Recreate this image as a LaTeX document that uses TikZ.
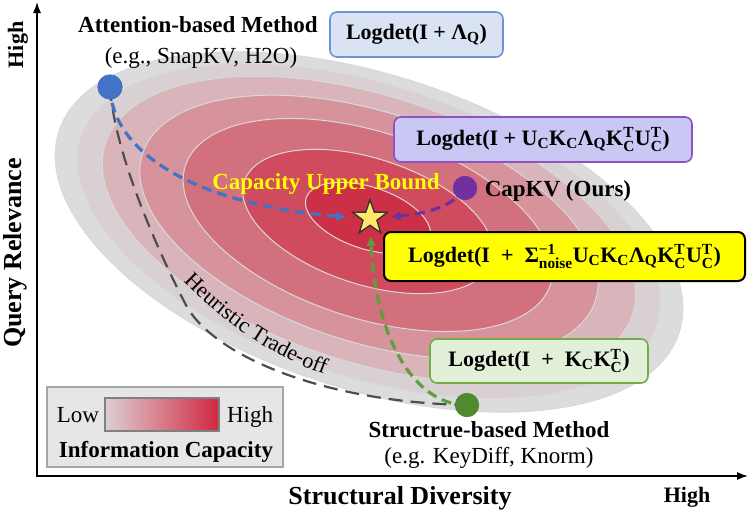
\documentclass[tikz,border=0pt]{standalone}
\usepackage{fontspec}
\usepackage{amsmath}
\setmainfont{Liberation Serif}
\usetikzlibrary{shapes.geometric,arrows.meta,decorations.text}
\definecolor{ring1}{HTML}{DCDCDC}
\definecolor{ring2}{HTML}{D8D0D2}
\definecolor{ring3}{HTML}{D9B4BA}
\definecolor{ring4}{HTML}{D6939C}
\definecolor{ring5}{HTML}{D3707D}
\definecolor{ring6}{HTML}{D04B5D}
\definecolor{ring7}{HTML}{CC3046}
\definecolor{blueM}{HTML}{4472C4}
\definecolor{purpM}{HTML}{7030A0}
\definecolor{greenM}{HTML}{4F8A2F}
\definecolor{greenL}{HTML}{5E9E3E}
\definecolor{boxBf}{HTML}{DAE3F3}
\definecolor{boxBd}{HTML}{6C94D6}
\definecolor{boxPf}{HTML}{CBC7F4}
\definecolor{boxPd}{HTML}{8B55C1}
\definecolor{boxGf}{HTML}{E2F0D9}
\definecolor{boxGd}{HTML}{70AD47}
\definecolor{darkdash}{HTML}{4D4D4D}
\definecolor{starY}{HTML}{FFE866}
\definecolor{capY}{HTML}{FFFF00}
\definecolor{legF}{HTML}{E6E6E6}
\definecolor{legD}{HTML}{A6A6A6}
\definecolor{barL}{HTML}{DDCFD2}
\definecolor{barM}{HTML}{D8A0A9}
\definecolor{barR}{HTML}{D02840}
\newcommand\fsz[1]{\fontsize{#1}{#1}\selectfont}
\newcommand\mysub[1]{$_{\text{#1}}$}
\newcommand\mysups[2]{$^{\text{#1}}_{\text{#2}}$}
\begin{document}
\begin{tikzpicture}[x=1pt,y=-1pt,
  lblB/.style={font=\fsz{23}\bfseries, inner sep=0pt},
  lblR/.style={font=\fsz{23}, inner sep=0pt},
  axlbl/.style={font=\fsz{26}\bfseries, inner sep=0pt},
  fbox/.style={draw, rounded corners=7pt, line width=1.6pt, inner sep=0pt, font=\fsz{22}\bfseries},
  dot/.style={circle, inner sep=0pt, minimum size=25pt},
  trail/.style={line width=3.2pt, dash pattern=on 10pt off 6pt, -{Latex[length=10pt,width=10pt]}},
  ringline/.style={draw=white!85!black, line width=1pt},
]
\fill[white] (0,0) rectangle (749,514);
\useasboundingbox (0,0) rectangle (749,514);

% capacity rings
\foreach \cx/\cy/\ra/\rb/\col in {369/232/326/157/ring1, 369/231/303/146/ring2, 369/229/277/133/ring3, 369/227/238/115/ring4, 368/225/192/93/ring5, 368/221.5/130/63/ring6, 368/218/65/31/ring7}
  \path[fill=\col, ringline, shift={(\cx,\cy)}, rotate=-18] (0,0) ellipse [x radius=\ra, y radius=\rb];

% axes
\coordinate (ytip) at (37,2);
\coordinate (orig) at (37,476);
\coordinate (xtip) at (748,476);
\draw[line width=1.4pt, {Latex[length=11pt,width=8pt]}-{Latex[length=11pt,width=8pt]}] (ytip) -- (orig) -- (xtip);

\node[axlbl, font=\fsz{22}\bfseries, rotate=90] (yhigh) at (18,45) {High};
\node[axlbl, rotate=90] (ylab) at (15,253) {Query Relevance};
\node[axlbl] (xlab) at (400,498) {Structural Diversity};
\node[axlbl, font=\fsz{22}\bfseries] (xhigh) at (687,497) {High};

% method dots and star
\node[dot, fill=blueM] (att) at (110,87) {};
\node[dot, fill=purpM, minimum size=24pt] (cap) at (465,188) {};
\node[dot, fill=greenM, minimum size=24pt] (str) at (467,405) {};
\node[star, star points=5, star point ratio=2.5, minimum size=36pt, inner sep=0pt, fill=starY, draw=black!80, line width=1.2pt] (star) at (370,218) {};
\coordinate (hmid) at (187,307);

% connectors
\draw[line width=2.2pt, darkdash, dash pattern=on 14pt off 8pt] (att.center) .. controls (115,160) and (165,265) .. (hmid) .. controls (215,355) and (320,402) .. (str.center);
\draw[trail, blueM, shorten >=13pt] (att.center) .. controls (112,155) and (200,205) .. (star.west);
\draw[trail, greenL, shorten >=10pt] (str.center) .. controls (415,405) and (376,340) .. (star.south);
\draw[trail, purpM, shorten >=10pt] (cap.center) .. controls (455,205) and (430,213) .. (star.east);
\node[dot, fill=blueM] at (att) {};
\node[dot, fill=purpM, minimum size=24pt] at (cap) {};
\node[dot, fill=greenM, minimum size=24pt] at (str) {};
\node[star, star points=5, star point ratio=2.5, minimum size=36pt, inner sep=0pt, fill=starY, draw=black!80, line width=1.2pt] at (star) {};

\path[decorate, decoration={text along path, text align=center, text={|\fsz{22}|Heuristic Trade-off}}] (178,276) .. controls (215,315) and (265,355) .. (332,377);

% texts
\node[lblB] (attT) at (198,25) {Attention-based Method};
\node[lblR] (attS) at (201,58) {(e.g., SnapKV, H2O)};
\node[lblB] (strT) at (489,430) {Structrue-based Method};
\node[lblR] (strS) at (489,458) {(e.g. KeyDiff, Knorm)};
\node[lblB] (capT) at (558,191) {CapKV (Ours)};
\node[lblB, text=capY] (cub) at (326,184) {Capacity Upper Bound};

% formula boxes
\node[fbox, draw=boxBd, fill=boxBf, minimum width=173pt, minimum height=45pt] (fQ) at (416.5,34.5) {Logdet(I + Λ\mysub{Q})};
\node[fbox, draw=boxPd, fill=boxPf, minimum width=298pt, minimum height=45pt] (fP) at (543,139.5) {Logdet(I + U\mysub{C}K\mysub{C}Λ\mysub{Q}K\mysups{T}{C}U\mysups{T}{C})};
\node[fbox, draw=black, fill=capY, line width=2pt, minimum width=361pt, minimum height=49pt] (fY) at (564.5,256.5) {Logdet(I\ \ +\ \ Σ\mysups{−1}{noise}U\mysub{C}K\mysub{C}Λ\mysub{Q}K\mysups{T}{C}U\mysups{T}{C})};
\node[fbox, draw=boxGd, fill=boxGf, minimum width=218pt, minimum height=44pt] (fG) at (539,361) {Logdet(I\ \ +\ \ K\mysub{C}K\mysups{T}{C})};

% legend
\node[draw=legD, fill=legF, line width=1.5pt, minimum width=236pt, minimum height=80pt, inner sep=0pt] (legend) at (165,427) {};
\node[draw=gray, line width=1.2pt, left color=barL, middle color=barM, right color=barR, minimum width=114pt, minimum height=33pt, inner sep=0pt] (bar) at (162,414.5) {};
\node[lblR] (low) at (78,415) {Low};
\node[lblR] (lhigh) at (250,417) {High};
\node[lblB] (lcap) at (166,452) {Information Capacity};
\end{tikzpicture}
\end{document}
